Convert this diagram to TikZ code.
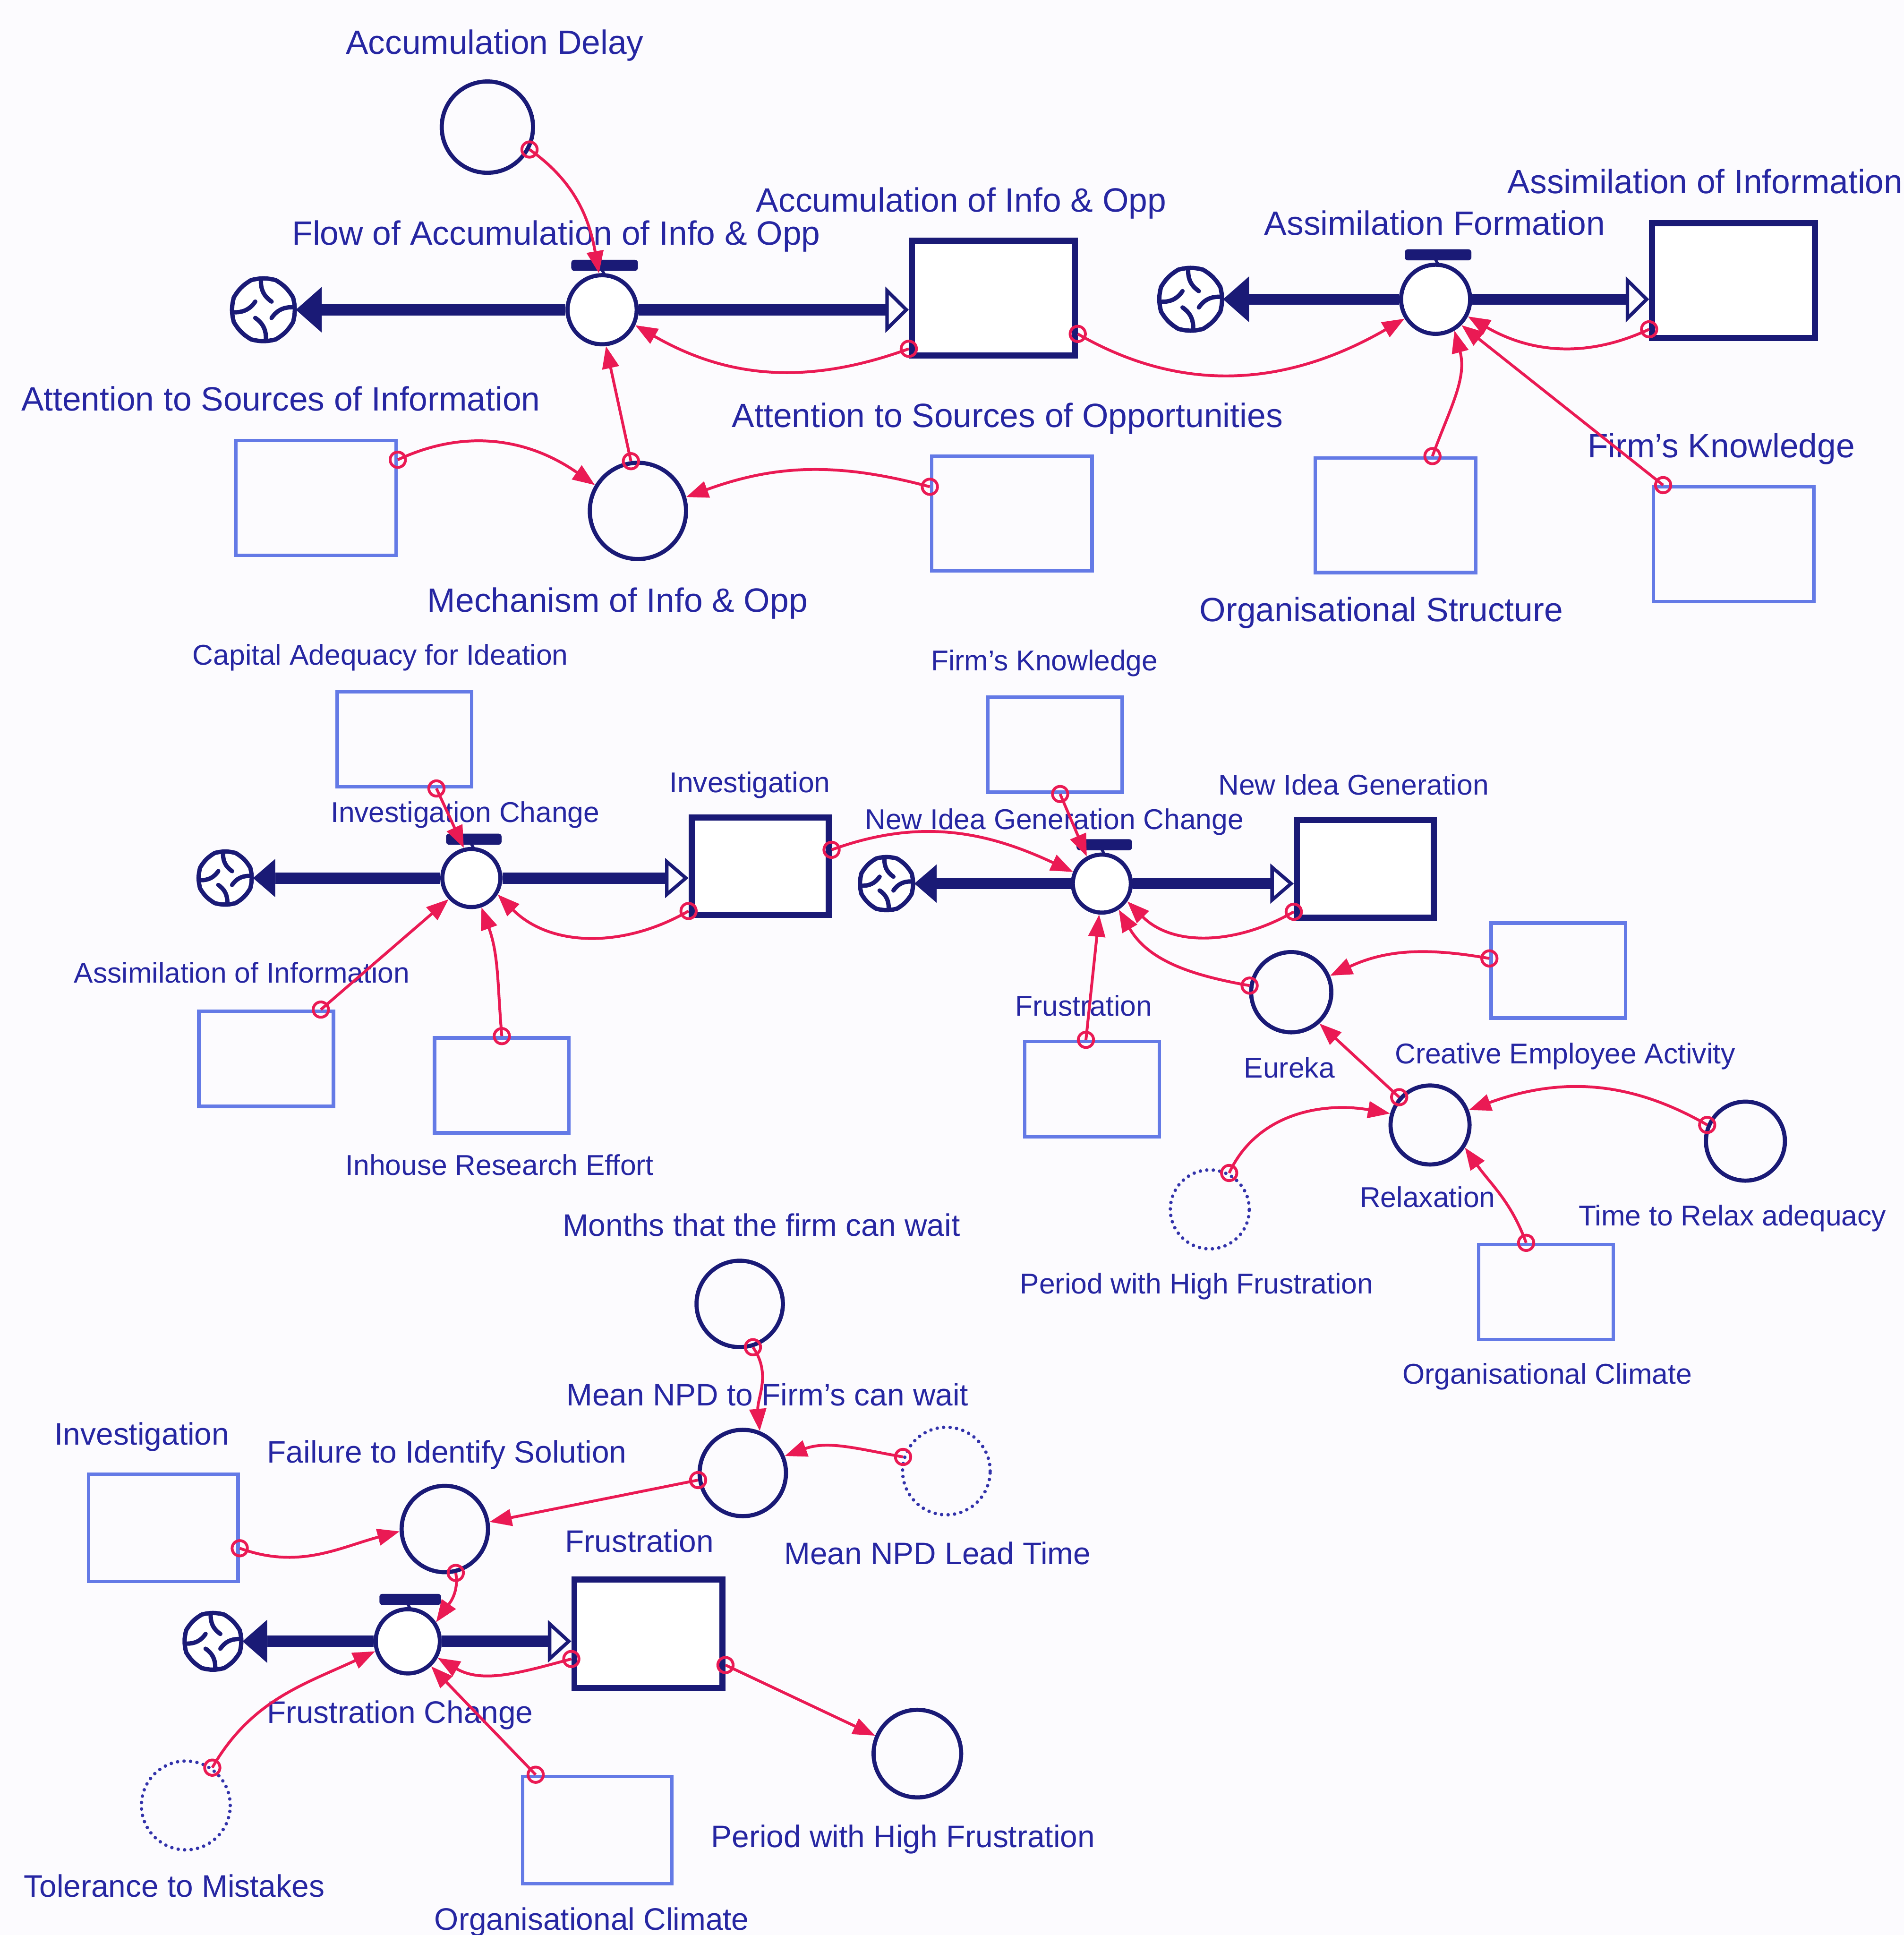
\documentclass[tikz,border=0pt]{standalone}
\usepackage{fontspec}
\setmainfont{Liberation Sans}
\usetikzlibrary{arrows.meta,decorations.markings}
\definecolor{navy}{RGB}{26,26,118}
\definecolor{inkblue}{RGB}{38,38,162}
\definecolor{ghostblue}{RGB}{100,122,230}
\definecolor{dotblue}{RGB}{50,50,170}
\definecolor{linkred}{RGB}{234,26,84}
\definecolor{paper}{RGB}{252,251,254}

\tikzset{
  lbl/.style={text=inkblue, inner sep=0pt, text depth=0pt},
  lbltop/.style={lbl, font=\fontsize{7.77pt}{9pt}\selectfont, text height=1.95mm},
  lblmid/.style={lbl, font=\fontsize{6.6pt}{8pt}\selectfont, text height=1.66mm},
  lblbot/.style={lbl, font=\fontsize{7.17pt}{8.5pt}\selectfont, text height=1.8mm},
  stockbox/.style={rectangle, draw=navy, line width=1.4pt, fill=white, inner sep=0pt},
  stockA/.style={stockbox, minimum width=13.2mm, minimum height=9.3mm},
  stockB/.style={stockbox, minimum width=11.1mm, minimum height=7.9mm},
  stockC/.style={stockbox, minimum width=12.0mm, minimum height=8.8mm},
  ghostbox/.style={rectangle, draw=ghostblue, line width=0.8pt, inner sep=0pt},
  ghostA/.style={ghostbox, minimum width=13.0mm, minimum height=9.3mm},
  ghostB/.style={ghostbox, minimum width=10.9mm, minimum height=7.7mm},
  ghostC/.style={ghostbox, minimum width=12.1mm, minimum height=8.7mm},
  auxcirc/.style={circle, draw=navy, line width=0.95pt, inner sep=0pt, minimum size=#1},
  ghostcirc/.style={circle, draw=dotblue, line width=0.8pt, line cap=round,
    dash pattern=on 0pt off 1.5pt, inner sep=0pt, minimum size=#1},
  valvecirc/.style={circle, draw=navy, line width=0.95pt, fill=white, inner sep=0pt},
  valvebar/.style={rectangle, fill=navy, inner sep=0pt, minimum height=0.9mm,
    rounded corners=0.25mm},
  cloudline/.style={draw=navy, line width=1.0pt, line join=round, line cap=round},
  pipe/.style={draw=navy, line width=2.6pt},
  conn/.style={draw=linkred, line width=0.65pt,
    -{Triangle[length=1.8mm,width=1.35mm]},
    postaction={decorate, decoration={markings,
      mark=at position 0 with {\draw[linkred, line width=0.65pt] (0,0) circle[radius=0.62mm];}}}},
  % flow regulator: valve circle with its handle bar
  valve/.pic={
    \node[valvecirc, minimum size={2*#1*0.1mm}] (-v) at (0,0) {};
    \node[valvebar, minimum width={(2*#1-2)*0.1mm}] (-b) at (2,{-(#1+8)}) {};
    \draw[navy, line width=1.2pt] (-v.north) -- (-b.south);
  },
  % source / sink cloud: octagon with a four-armed swirl inside
  cloudsym/.pic={
    \pgfmathsetmacro\cldr{#1}
    \node[circle, inner sep=0pt, minimum size={(1.85*\cldr+0.3)*1mm}] (-c) at (0,0) {};
    \draw[cloudline, fill=white] (22.5:{\cldr*1mm})
      \foreach \a in {67.5,112.5,...,382.5}{ to[bend right=14] (\a:{\cldr*1mm}) } -- cycle;
    \foreach \a in {5,95,185,275}
      \draw[cloudline] ({\a}:{0.9*\cldr*1mm}) to[bend right=28] ({\a-50}:{0.36*\cldr*1mm});
  }
}

\begin{document}
\begin{tikzpicture}[x=0.1mm,y=-0.1mm]
\fill[paper] (0,0) rectangle (1543,1568);
\useasboundingbox (0,0) rectangle (1543,1568);

% ---------------- accumulation and assimilation ----------------
\node[auxcirc=7.4mm] (adly) at (395,103) {};
\pic (cl1) at (213.5,251) {cloudsym=2.6};
\pic (v1) at (488,251) {valve=28};
\node[stockA] (s1) at (805,241.5) {};
\pic (cl2) at (965,242.5) {cloudsym=2.6};
\pic (v2) at (1163.5,242.5) {valve=28};
\node[stockA] (s2) at (1405,227.3) {};
\node[ghostA] (gati) at (256,403.5) {};
\node[ghostA] (gato) at (820,416) {};
\node[ghostA] (gos) at (1131,417.5) {};
\node[ghostA] (gfk) at (1405,441) {};
\node[auxcirc=7.8mm] (mech) at (517,414) {};

\draw[pipe, -{Triangle[length=2.1mm,width=3.7mm,line width=0pt]}] (v1-v.west) -- (v1-v.west -| cl1-c.east);
\draw[pipe, -{Triangle[open,length=1.9mm,width=3.7mm,line width=0.8pt]}] (v1-v.east) -- (v1-v.east -| s1.west);
\draw[pipe, -{Triangle[length=2.1mm,width=3.7mm,line width=0pt]}] (v2-v.west) -- (v2-v.west -| cl2-c.east);
\draw[pipe, -{Triangle[open,length=1.9mm,width=3.7mm,line width=0.8pt]}] (v2-v.east) -- (v2-v.east -| s2.west);

\node[lbltop] (tadly) at (401,34.2) {Accumulation Delay};
\node[lbltop] (tv1) at (450.8,188.8) {Flow of Accumulation of Info \& Opp};
\node[lbltop] (ts1) at (779,162) {Accumulation of Info \& Opp};
\node[lbltop] (tv2) at (1162.8,180.6) {Assimilation Formation};
\node[lbltop] (ts2) at (1382,147) {Assimilation of Information};
\node[lbltop] (tgfk) at (1395,361) {Firm's Knowledge};
\node[lbltop] (tgato) at (816.5,336.5) {Attention to Sources of Opportunities};
\node[lbltop] (tgati) at (227.5,323) {Attention to Sources of Information};
\node[lbltop] (tmech) at (500.5,486) {Mechanism of Info \& Opp};
\node[lbltop] (tgos) at (1119.5,494) {Organisational Structure};

% ---------------- investigation and new ideas ----------------
\node[ghostB] (gcap) at (327.8,599) {};
\node[ghostB] (gfk2) at (855,603.5) {};
\pic (cl3) at (182.5,711.5) {cloudsym=2.2};
\pic (v3) at (382,711.5) {valve=23.5};
\node[stockB] (s3) at (616,702) {};
\pic (cl4) at (718.5,716) {cloudsym=2.2};
\pic (v4) at (893,716) {valve=23.5};
\node[stockB] (s4) at (1106.5,704) {};
\node[ghostB] (gai) at (215.7,858) {};
\node[ghostB] (gih) at (406.7,879.5) {};
\node[ghostB] (gfr) at (885,882.5) {};
\node[ghostB] (gcr) at (1263,786.5) {};
\node[ghostB] (goc) at (1253,1047) {};
\node[auxcirc=6.5mm] (eur) at (1046.5,804) {};
\node[auxcirc=6.4mm] (rel) at (1159,911.6) {};
\node[auxcirc=6.4mm] (trl) at (1414.6,924.7) {};
\node[ghostcirc=6.4mm] (pwh) at (980.5,980) {};

\draw[pipe, -{Triangle[length=1.8mm,width=3.1mm,line width=0pt]}] (v3-v.west) -- (v3-v.west -| cl3-c.east);
\draw[pipe, -{Triangle[open,length=1.9mm,width=3.2mm,line width=0.8pt]}] (v3-v.east) -- (v3-v.east -| s3.west);
\draw[pipe, -{Triangle[length=1.8mm,width=3.1mm,line width=0pt]}] (v4-v.west) -- (v4-v.west -| cl4-c.east);
\draw[pipe, -{Triangle[open,length=1.9mm,width=3.2mm,line width=0.8pt]}] (v4-v.east) -- (v4-v.east -| s4.west);

\node[lblmid] (tgcap) at (308.3,530.5) {Capital Adequacy for Ideation};
\node[lblmid] (tgfk2) at (846.5,535) {Firm's Knowledge};
\node[lblmid] (ts3) at (607.7,633.7) {Investigation};
\node[lblmid] (tv3) at (377,658) {Investigation Change};
\node[lblmid] (tgai) at (196,788) {Assimilation of Information};
\node[lblmid] (tgih) at (404.9,943.9) {Inhouse Research Effort};
\node[lblmid] (ts4) at (1097,635.6) {New Idea Generation};
\node[lblmid] (tv4) at (854.5,663.8) {New Idea Generation Change};
\node[lblmid] (tgfr) at (878.3,815) {Frustration};
\node[lblmid] (teur) at (1045,865) {Eureka};
\node[lblmid] (tgcr) at (1268.5,853.4) {Creative Employee Activity};
\node[lblmid] (trel) at (1157,970) {Relaxation};
\node[lblmid] (ttrl) at (1404,984.7) {Time to Relax adequacy};
\node[lblmid] (tpwh) at (969.9,1040) {Period with High Frustration};
\node[lblmid] (tgoc) at (1254,1113) {Organisational Climate};

% ---------------- frustration ----------------
\node[auxcirc=7.0mm] (mon) at (599.5,1056.6) {};
\node[auxcirc=7.0mm] (mnpd) at (602,1193.6) {};
\node[ghostcirc=7.1mm] (mlt) at (767,1192) {};
\node[ghostC] (ginv) at (132.4,1238) {};
\node[auxcirc=7.0mm] (fail) at (360.5,1239) {};
\pic (cl5) at (172.6,1330) {cloudsym=2.35};
\pic (v5) at (330.5,1330) {valve=26};
\node[stockC] (s5) at (525.5,1324) {};
\node[ghostcirc=7.2mm] (tol) at (150.6,1463) {};
\node[ghostC] (goc2) at (484,1483) {};
\node[auxcirc=7.1mm] (pwh2) at (743.5,1421) {};

\draw[pipe, -{Triangle[length=2.0mm,width=3.5mm,line width=0pt]}] (v5-v.west) -- (v5-v.west -| cl5-c.east);
\draw[pipe, -{Triangle[open,length=1.9mm,width=3.4mm,line width=0.8pt]}] (v5-v.east) -- (v5-v.east -| s5.west);

\node[lblbot] (tmon) at (617,992.7) {Months that the firm can wait};
\node[lblbot] (tmnpd) at (622,1130) {Mean NPD to Firm's can wait};
\node[lblbot] (tginv) at (115,1161.8) {Investigation};
\node[lblbot] (tfail) at (362.2,1176.4) {Failure to Identify Solution};
\node[lblbot] (ts5) at (518.2,1248.8) {Frustration};
\node[lblbot] (tmlt) at (759.8,1258.5) {Mean NPD Lead Time};
\node[lblbot] (tv5) at (324.2,1387.3) {Frustration Change};
\node[lblbot] (tpwh2) at (731.9,1488) {Period with High Frustration};
\node[lblbot] (ttol) at (141.2,1528.2) {Tolerance to Mistakes};
\node[lblbot] (tgoc2) at (479.6,1555) {Organisational Climate};

% ---------------- information links ----------------
\draw[conn] (adly.-28) to[out=-35, in=100] (v1-v.95);
\draw[conn] (s1.211) to[out=200, in=-30] (v1-v.-25);
\draw[conn] (mech.98) -- (v1-v.-84);
\draw[conn] (gati.25) to[out=25, in=145] (mech.149);
\draw[conn] (gato.162) to[out=165, in=20] (mech.16);
\draw[conn] (s1.-23) to[out=-30, in=-150] (v2-v.212);
\draw[conn] (gos.58) to[out=70, in=-75] (v2-v.-59);
\draw[conn] (gfk.140) -- (v2-v.-45);
\draw[conn] (s2.210) to[out=205, in=-30] (v2-v.-28);

\draw[conn] (gcap.-57) -- (v3-v.104);
\draw[conn] (gai.42) -- (v3-v.223);
\draw[conn] (gih.90) to[out=95, in=-70] (v3-v.-71);
\draw[conn] (s3.212) to[out=210, in=-45] (v3-v.-32);
\draw[conn] (s3.13) to[out=20, in=155] (v4-v.158);
\draw[conn] (gfk2.-84) -- (v4-v.119);
\draw[conn] (gfr.97) -- (v4-v.-95);
\draw[conn] (s4.211) to[out=210, in=-45] (v4-v.-35);
\draw[conn] (eur.171) to[out=170, in=-60] (v4-v.-57);
\draw[conn] (gcr.170) to[out=170, in=25] (eur.23);
\draw[conn] (rel.138) -- (eur.-48);
\draw[conn] (pwh.62) to[out=65, in=170] (rel.164);
\draw[conn] (trl.157) to[out=150, in=20] (rel.21);
\draw[conn] (goc.112) to[out=110, in=-55] (rel.-33);

\draw[conn] (mon.-73) to[out=-55, in=95] (mnpd.68);
\draw[conn] (mlt.162) to[out=170, in=20] (mnpd.22);
\draw[conn] (mnpd.189) -- (fail.9);
\draw[conn] (ginv.-15) to[out=-20, in=195] (fail.183);
\draw[conn] (fail.-76) to[out=-80, in=55] (v5-v.34);
\draw[conn] (s5.198) to[out=195, in=-30] (v5-v.-29);
\draw[conn] (s5.-22) -- (pwh2.157);
\draw[conn] (tol.55) to[out=60, in=205] (v5-v.197);
\draw[conn] (goc2.138) -- (v5-v.-47);
\end{tikzpicture}
\end{document}
